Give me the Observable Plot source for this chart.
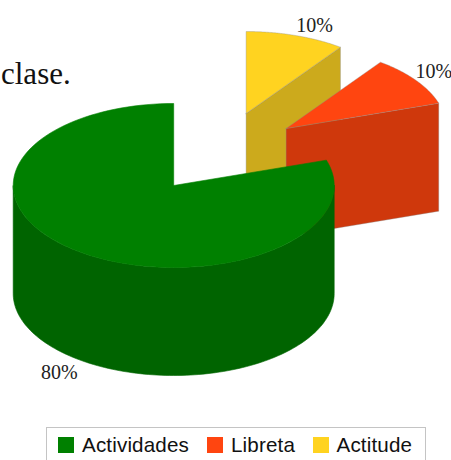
<!DOCTYPE html>
<html><head><meta charset="utf-8">
<script src="https://cdn.jsdelivr.net/npm/d3@7"></script>
<script src="https://cdn.jsdelivr.net/npm/@observablehq/plot@0.6"></script>
<style>
html,body{margin:0;padding:0;background:#fff;width:451px;height:460px;overflow:hidden}
svg{display:block}
#legend{position:absolute;left:46px;top:427px;width:378px;height:40px;border:1px solid #c4c4c4;box-sizing:content-box;font:20.6px "Liberation Sans",sans-serif;color:#111;letter-spacing:.15px}
#legend span{position:absolute;top:5px;line-height:24px;white-space:nowrap}
#legend i{position:absolute;top:9px;width:16px;height:16px}
</style></head><body>
<div id="chart"></div><div id="legend"></div>
<script>
const categories = ["Actividades", "Libreta", "Actitude"];
const values = [80, 10, 10];
const topColors = ["#008000", "#ff4510", "#ffd320"];
const wallColors = ["#006400", "#cf380c", "#ccaa1c"];
const titleFragment = "clase.";

// Pie geometry (layout only): centre of each slice's top face, ellipse radii, extrusion depth
const rx = 160.5, ry = 82, depth = 108;
const centers = [[173.2, 185], [285.6, 128], [245.6, 113]];
const labelShift = [[-20, 12.5], [18, -9], [19, -10]];

// Slices run counter-clockwise from 12 o'clock
let cursor = 360;
const slices = categories.map((name, i) => {
  const a1 = cursor, a0 = cursor - values[i] / d3.sum(values) * 360;
  cursor = a0;
  return {name, value: values[i], a0, a1, c: centers[i], top: topColors[i], wall: wallColors[i], shift: labelShift[i]};
});
const rad = d => d * Math.PI / 180;
const pt = (s, a, dz = 0) => ({x: s.c[0] + rx * Math.sin(rad(a)), y: s.c[1] - ry * Math.cos(rad(a)) + dz});
const arc = (s, a0, a1, dz = 0) => d3.range(0, 121).map(k => pt(s, a0 + (a1 - a0) * k / 120, dz));
const apex = (s, dz = 0) => ({x: s.c[0], y: s.c[1] + dz});

const edge = {stroke: "#8a8a8a", strokeWidth: 0.6, strokeOpacity: 0.6};
const face = (pts, fill, stroke = edge) => Plot.line([...pts, pts[0]], {x: "x", y: "y", fill, ...stroke, strokeLinejoin: "round"});

const [green, red, yellow] = slices;
const marks = [];
// yellow: cut wall then top
marks.push(face([apex(yellow), pt(yellow, yellow.a1), pt(yellow, yellow.a1, depth), apex(yellow, depth)], yellow.wall));
marks.push(face([apex(yellow), ...arc(yellow, yellow.a0, yellow.a1)], yellow.top));
// red: cut wall then top
marks.push(face([apex(red), pt(red, red.a1), pt(red, red.a1, depth), apex(red, depth)], red.wall));
marks.push(face([apex(red), ...arc(red, red.a0, red.a1)], red.top));
// green: outer wall (front half) then top
const wallTop = arc(green, 90, 270), wallBottom = arc(green, 270, 90, depth);
marks.push(face([...wallTop, ...wallBottom], green.wall, {stroke: green.wall, strokeWidth: 0.6}));
marks.push(face([apex(green), ...arc(green, green.a0, green.a1)], green.top, {stroke: green.top, strokeWidth: 0.6}));

// Percentage labels sit just outside the rim at each slice's mid angle
const labels = slices.map(s => {
  const m = (s.a0 + s.a1) / 2, p = pt(s, m, Math.cos(rad(m)) < 0 ? depth : 0);
  return {x: p.x + s.shift[0], y: p.y + s.shift[1], text: s.value + "%"};
});
marks.push(Plot.text(labels, {x: "x", y: "y", text: "text", fontFamily: "Liberation Serif", fontSize: 20, fill: "#222"}));
marks.push(Plot.text([titleFragment], {x: () => 0.5, y: () => 74, text: d => d, textAnchor: "start", fontFamily: "Liberation Serif", fontSize: 31, fill: "#111"}));

const chart = Plot.plot({
  width: 451, height: 427, margin: 0,
  x: {domain: [0, 451], range: [0, 451], axis: null},
  y: {domain: [0, 427], range: [0, 427], axis: null},
  style: {background: "#fff"},
  marks
});
document.getElementById("chart").append(chart);

const legendX = [[11, 35], [160, 184], [266, 289.5]];
const legend = document.getElementById("legend");
categories.forEach((c, i) => {
  const sw = document.createElement("i");
  sw.style.left = legendX[i][0] + "px"; sw.style.background = topColors[i];
  const t = document.createElement("span");
  t.style.left = legendX[i][1] + "px"; t.textContent = c;
  legend.append(sw, t);
});
</script>
</body></html>
